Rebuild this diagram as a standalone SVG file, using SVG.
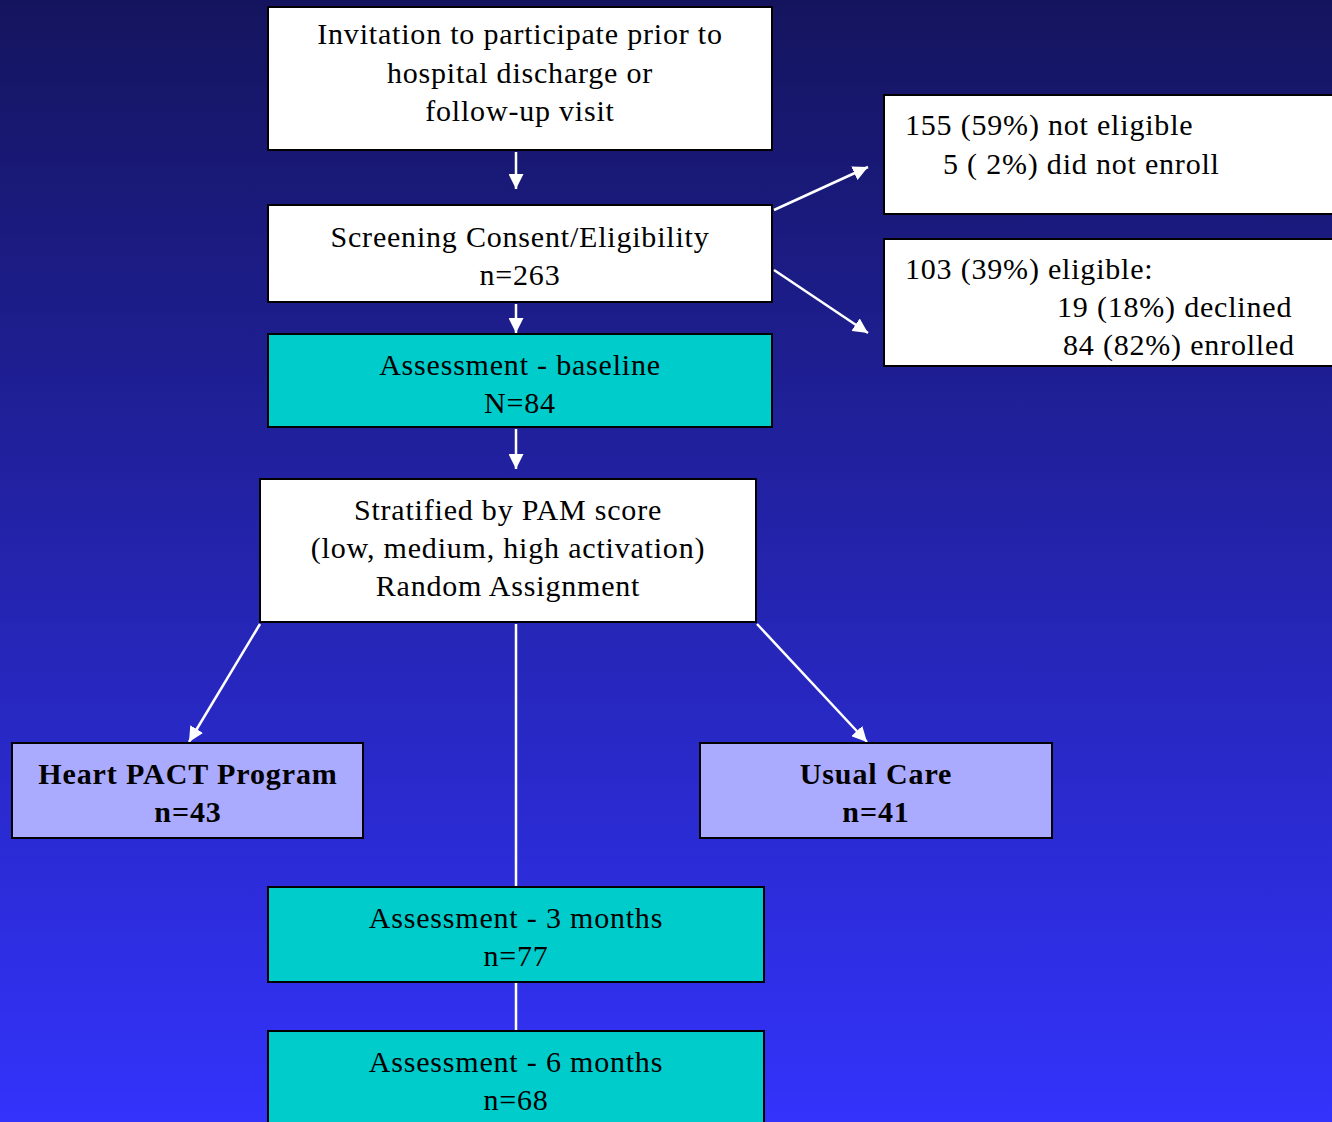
<svg xmlns="http://www.w3.org/2000/svg" width="1332" height="1122" viewBox="0 0 1332 1122">
<defs>
<linearGradient id="bg" x1="0" y1="0" x2="0" y2="1">
<stop offset="0" stop-color="#14145e"/>
<stop offset="1" stop-color="#3333fc"/>
</linearGradient>
<marker id="ah" viewBox="0 0 10 10" refX="10" refY="5" markerWidth="6" markerHeight="6" markerUnits="strokeWidth" orient="auto">
<path d="M0,0 L10,5 L0,10 z" fill="#ffffff"/>
</marker>
<style>
.box{stroke:#000;stroke-width:2}
.w{fill:#ffffff}
.t{fill:#00cccc}
.p{fill:#aaaaff}
text{font-family:"Liberation Serif","Times New Roman",serif;font-size:30px;letter-spacing:0.8px;fill:#000}
.c{text-anchor:middle}
.b{font-weight:bold;letter-spacing:0.9px}
.ln{stroke:#fff;stroke-width:2.5;fill:none}
</style>
</defs>
<rect width="1332" height="1122" fill="url(#bg)"/>
<g id="connectors">
<line class="ln" x1="516" y1="152" x2="516" y2="189" marker-end="url(#ah)"/>
<line class="ln" x1="516" y1="304" x2="516" y2="333" marker-end="url(#ah)"/>
<line class="ln" x1="516" y1="429" x2="516" y2="469" marker-end="url(#ah)"/>
<line class="ln" x1="774" y1="210" x2="868" y2="167" marker-end="url(#ah)"/>
<line class="ln" x1="774" y1="270" x2="868" y2="333" marker-end="url(#ah)"/>
<line class="ln" x1="260" y1="624" x2="189" y2="742" marker-end="url(#ah)"/>
<line class="ln" x1="757" y1="624" x2="867" y2="742" marker-end="url(#ah)"/>
<line class="ln" x1="516" y1="624" x2="516" y2="887"/>
<line class="ln" x1="516" y1="983" x2="516" y2="1031"/>
</g>
<g id="invitation">
<rect class="box w" x="268" y="7" width="504" height="143"/>
<text class="c" x="520" y="44">Invitation to participate prior to</text>
<text class="c" x="520" y="83">hospital discharge or</text>
<text class="c" x="520" y="121">follow-up visit</text>
</g>
<g id="screening">
<rect class="box w" x="268" y="205" width="504" height="97"/>
<text class="c" x="520" y="247">Screening Consent/Eligibility</text>
<text class="c" x="520" y="285">n=263</text>
</g>
<g id="baseline">
<rect class="box t" x="268" y="334" width="504" height="93"/>
<text class="c" x="520" y="375">Assessment - baseline</text>
<text class="c" x="520" y="413">N=84</text>
</g>
<g id="not-eligible">
<rect class="box w" x="884" y="95" width="460" height="119"/>
<text x="905" y="135">155 (59%) not eligible</text>
<text x="943" y="174">5 ( 2%) did not enroll</text>
</g>
<g id="eligible">
<rect class="box w" x="884" y="239" width="460" height="127"/>
<text x="905" y="279">103 (39%) eligible:</text>
<text x="1057" y="317">19 (18%) declined</text>
<text x="1063" y="355">84 (82%) enrolled</text>
</g>
<g id="stratified">
<rect class="box w" x="260" y="479" width="496" height="143"/>
<text class="c" x="508" y="520">Stratified by PAM score</text>
<text class="c" x="508" y="558">(low, medium, high activation)</text>
<text class="c" x="508" y="596">Random Assignment</text>
</g>
<g id="heart-pact">
<rect class="box p" x="12" y="743" width="351" height="95"/>
<text class="c b" x="188" y="784">Heart PACT Program</text>
<text class="c b" x="188" y="822">n=43</text>
</g>
<g id="usual-care">
<rect class="box p" x="700" y="743" width="352" height="95"/>
<text class="c b" x="876" y="784">Usual Care</text>
<text class="c b" x="876" y="822">n=41</text>
</g>
<g id="assess-3">
<rect class="box t" x="268" y="887" width="496" height="95"/>
<text class="c" x="516" y="928">Assessment - 3 months</text>
<text class="c" x="516" y="966">n=77</text>
</g>
<g id="assess-6">
<rect class="box t" x="268" y="1031" width="496" height="110"/>
<text class="c" x="516" y="1072">Assessment - 6 months</text>
<text class="c" x="516" y="1110">n=68</text>
</g>
</svg>
